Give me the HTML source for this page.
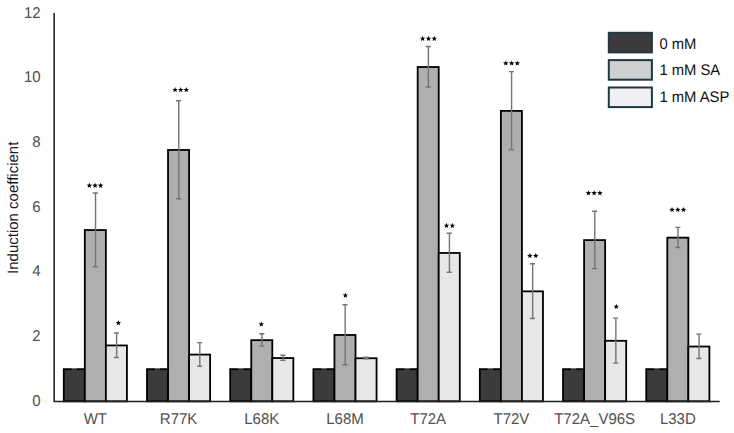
<!DOCTYPE html>
<html><head><meta charset="utf-8"><style>
html,body{margin:0;padding:0;background:#fff;}
body{width:734px;height:433px;overflow:hidden;}
svg{display:block;font-family:"Liberation Sans", sans-serif;text-rendering:geometricPrecision;}
</style></head><body>
<svg width="734" height="433" viewBox="0 0 734 433">
<rect width="734" height="433" fill="#fff"/>
<rect x="63.78" y="369.15" width="21.05" height="32.15" fill="#3b3b3b"/><rect x="63.78" y="369.15" width="21.05" height="32.15" fill="none" stroke="#000" stroke-width="1.8"/><rect x="84.83" y="230.04" width="21.05" height="171.26" fill="#afafaf"/><rect x="84.83" y="230.04" width="21.05" height="171.26" fill="none" stroke="#000" stroke-width="1.8"/><rect x="105.88" y="345.44" width="21.05" height="55.86" fill="#e7e7e7"/><rect x="105.88" y="345.44" width="21.05" height="55.86" fill="none" stroke="#000" stroke-width="1.8"/><rect x="146.99" y="369.15" width="21.05" height="32.15" fill="#3b3b3b"/><rect x="146.99" y="369.15" width="21.05" height="32.15" fill="none" stroke="#000" stroke-width="1.8"/><rect x="168.04" y="149.95" width="21.05" height="251.35" fill="#afafaf"/><rect x="168.04" y="149.95" width="21.05" height="251.35" fill="none" stroke="#000" stroke-width="1.8"/><rect x="189.09" y="354.59" width="21.05" height="46.71" fill="#e7e7e7"/><rect x="189.09" y="354.59" width="21.05" height="46.71" fill="none" stroke="#000" stroke-width="1.8"/><rect x="230.20" y="369.15" width="21.05" height="32.15" fill="#3b3b3b"/><rect x="230.20" y="369.15" width="21.05" height="32.15" fill="none" stroke="#000" stroke-width="1.8"/><rect x="251.25" y="340.16" width="21.05" height="61.14" fill="#afafaf"/><rect x="251.25" y="340.16" width="21.05" height="61.14" fill="none" stroke="#000" stroke-width="1.8"/><rect x="272.30" y="358.05" width="21.05" height="43.25" fill="#e7e7e7"/><rect x="272.30" y="358.05" width="21.05" height="43.25" fill="none" stroke="#000" stroke-width="1.8"/><rect x="313.41" y="369.15" width="21.05" height="32.15" fill="#3b3b3b"/><rect x="313.41" y="369.15" width="21.05" height="32.15" fill="none" stroke="#000" stroke-width="1.8"/><rect x="334.46" y="334.96" width="21.05" height="66.34" fill="#afafaf"/><rect x="334.46" y="334.96" width="21.05" height="66.34" fill="none" stroke="#000" stroke-width="1.8"/><rect x="355.51" y="358.25" width="21.05" height="43.05" fill="#e7e7e7"/><rect x="355.51" y="358.25" width="21.05" height="43.05" fill="none" stroke="#000" stroke-width="1.8"/><rect x="396.62" y="369.15" width="21.05" height="32.15" fill="#3b3b3b"/><rect x="396.62" y="369.15" width="21.05" height="32.15" fill="none" stroke="#000" stroke-width="1.8"/><rect x="417.67" y="67.00" width="21.05" height="334.30" fill="#afafaf"/><rect x="417.67" y="67.00" width="21.05" height="334.30" fill="none" stroke="#000" stroke-width="1.8"/><rect x="438.72" y="252.95" width="21.05" height="148.35" fill="#e7e7e7"/><rect x="438.72" y="252.95" width="21.05" height="148.35" fill="none" stroke="#000" stroke-width="1.8"/><rect x="479.83" y="369.15" width="21.05" height="32.15" fill="#3b3b3b"/><rect x="479.83" y="369.15" width="21.05" height="32.15" fill="none" stroke="#000" stroke-width="1.8"/><rect x="500.88" y="110.90" width="21.05" height="290.40" fill="#afafaf"/><rect x="500.88" y="110.90" width="21.05" height="290.40" fill="none" stroke="#000" stroke-width="1.8"/><rect x="521.93" y="291.35" width="21.05" height="109.95" fill="#e7e7e7"/><rect x="521.93" y="291.35" width="21.05" height="109.95" fill="none" stroke="#000" stroke-width="1.8"/><rect x="563.04" y="369.15" width="21.05" height="32.15" fill="#3b3b3b"/><rect x="563.04" y="369.15" width="21.05" height="32.15" fill="none" stroke="#000" stroke-width="1.8"/><rect x="584.09" y="240.11" width="21.05" height="161.19" fill="#afafaf"/><rect x="584.09" y="240.11" width="21.05" height="161.19" fill="none" stroke="#000" stroke-width="1.8"/><rect x="605.14" y="340.81" width="21.05" height="60.49" fill="#e7e7e7"/><rect x="605.14" y="340.81" width="21.05" height="60.49" fill="none" stroke="#000" stroke-width="1.8"/><rect x="646.25" y="369.15" width="21.05" height="32.15" fill="#3b3b3b"/><rect x="646.25" y="369.15" width="21.05" height="32.15" fill="none" stroke="#000" stroke-width="1.8"/><rect x="667.30" y="237.65" width="21.05" height="163.65" fill="#afafaf"/><rect x="667.30" y="237.65" width="21.05" height="163.65" fill="none" stroke="#000" stroke-width="1.8"/><rect x="688.35" y="346.54" width="21.05" height="54.76" fill="#e7e7e7"/><rect x="688.35" y="346.54" width="21.05" height="54.76" fill="none" stroke="#000" stroke-width="1.8"/>
<g stroke="#747474" stroke-width="1.4" fill="none"><path d="M71.75 368.75H76.85"/><path d="M95.55 192.97V266.72M92.80 192.97H97.90M92.80 266.72H97.90"/><path d="M116.61 332.94V357.53M113.86 332.94H118.95M113.86 357.53H118.95"/><path d="M154.97 368.75H160.07"/><path d="M178.77 100.80V198.69M176.02 100.80H181.12M176.02 198.69H181.12"/><path d="M199.81 342.58V366.20M197.06 342.58H202.17M197.06 366.20H202.17"/><path d="M238.17 368.75H243.28"/><path d="M261.97 333.82V346.11M259.22 333.82H264.32M259.22 346.11H264.32"/><path d="M283.02 355.30V360.41M280.27 355.30H285.38M280.27 360.41H285.38"/><path d="M321.38 368.75H326.48"/><path d="M345.18 304.70V364.81M342.43 304.70H347.53M342.43 364.81H347.53"/><path d="M366.23 357.30V358.79M363.48 357.30H368.58M363.48 358.79H368.58"/><path d="M404.59 368.75H409.69"/><path d="M428.39 46.55V87.05M425.64 46.55H430.75M425.64 87.05H430.75"/><path d="M449.44 233.31V272.19M446.69 233.31H451.80M446.69 272.19H451.80"/><path d="M487.80 368.75H492.90"/><path d="M511.60 71.59V149.81M508.85 71.59H513.95M508.85 149.81H513.95"/><path d="M532.65 263.81V318.48M529.90 263.81H535.00M529.90 318.48H535.00"/><path d="M571.01 368.75H576.11"/><path d="M594.81 211.21V268.60M592.06 211.21H597.16M592.06 268.60H597.16"/><path d="M615.87 318.10V363.13M613.12 318.10H618.21M613.12 363.13H618.21"/><path d="M654.22 368.75H659.32"/><path d="M678.02 227.39V247.51M675.27 227.39H680.37M675.27 247.51H680.37"/><path d="M699.07 334.17V358.50M696.32 334.17H701.42M696.32 358.50H701.42"/></g>
<path d="M54.15 13.10V401.45M53.4 401.45H719.7" stroke="#1f1f1f" stroke-width="1.55" fill="none"/>
<g font-size="15" fill="#505050"><text transform="translate(40.60 405.70) scale(1 1.04)" text-anchor="end">0</text><text transform="translate(40.60 341.00) scale(1 1.04)" text-anchor="end">2</text><text transform="translate(40.60 276.30) scale(1 1.04)" text-anchor="end">4</text><text transform="translate(40.60 211.60) scale(1 1.04)" text-anchor="end">6</text><text transform="translate(40.60 146.90) scale(1 1.04)" text-anchor="end">8</text><text transform="translate(40.60 82.20) scale(1 1.04)" text-anchor="end">10</text><text transform="translate(40.60 17.50) scale(1 1.04)" text-anchor="end">12</text><text transform="translate(95.35 423.60) scale(1 1.04)" text-anchor="middle">WT</text><text transform="translate(178.56 423.60) scale(1 1.04)" text-anchor="middle">R77K</text><text transform="translate(261.77 423.60) scale(1 1.04)" text-anchor="middle">L68K</text><text transform="translate(344.98 423.60) scale(1 1.04)" text-anchor="middle">L68M</text><text transform="translate(428.19 423.60) scale(1 1.04)" text-anchor="middle">T72A</text><text transform="translate(511.40 423.60) scale(1 1.04)" text-anchor="middle">T72V</text><text transform="translate(594.62 423.60) scale(1 1.04)" text-anchor="middle">T72A_V96S</text><text transform="translate(677.82 423.60) scale(1 1.04)" text-anchor="middle">L33D</text></g>
<text transform="translate(17.8 207.8) rotate(-90)" text-anchor="middle" font-size="15" fill="#1a1a1a">Induction coefficient</text>
<g fill="#000"><polygon points="89.40,182.68 90.12,184.59 92.16,184.68 90.56,185.95 91.10,187.92 89.40,186.80 87.70,187.92 88.24,185.95 86.64,184.68 88.68,184.59"/><polygon points="95.10,182.68 95.82,184.59 97.86,184.68 96.26,185.95 96.80,187.92 95.10,186.80 93.40,187.92 93.94,185.95 92.34,184.68 94.38,184.59"/><polygon points="100.60,182.68 101.32,184.59 103.36,184.68 101.76,185.95 102.30,187.92 100.60,186.80 98.90,187.92 99.44,185.95 97.84,184.68 99.88,184.59"/><polygon points="118.40,320.08 119.12,321.99 121.16,322.08 119.56,323.35 120.10,325.32 118.40,324.20 116.70,325.32 117.24,323.35 115.64,322.08 117.68,321.99"/><polygon points="175.10,86.98 175.82,88.89 177.86,88.98 176.26,90.25 176.80,92.22 175.10,91.10 173.40,92.22 173.94,90.25 172.34,88.98 174.38,88.89"/><polygon points="180.70,86.98 181.42,88.89 183.46,88.98 181.86,90.25 182.40,92.22 180.70,91.10 179.00,92.22 179.54,90.25 177.94,88.98 179.98,88.89"/><polygon points="186.30,86.98 187.02,88.89 189.06,88.98 187.46,90.25 188.00,92.22 186.30,91.10 184.60,92.22 185.14,90.25 183.54,88.98 185.58,88.89"/><polygon points="261.30,321.28 262.02,323.19 264.06,323.28 262.46,324.55 263.00,326.52 261.30,325.40 259.60,326.52 260.14,324.55 258.54,323.28 260.58,323.19"/><polygon points="345.35,292.58 346.07,294.49 348.11,294.58 346.51,295.85 347.05,297.82 345.35,296.70 343.65,297.82 344.19,295.85 342.59,294.58 344.63,294.49"/><polygon points="422.65,35.78 423.37,37.69 425.41,37.78 423.81,39.05 424.35,41.02 422.65,39.90 420.95,41.02 421.49,39.05 419.89,37.78 421.93,37.69"/><polygon points="428.50,35.78 429.22,37.69 431.26,37.78 429.66,39.05 430.20,41.02 428.50,39.90 426.80,41.02 427.34,39.05 425.74,37.78 427.78,37.69"/><polygon points="434.30,35.78 435.02,37.69 437.06,37.78 435.46,39.05 436.00,41.02 434.30,39.90 432.60,41.02 433.14,39.05 431.54,37.78 433.58,37.69"/><polygon points="446.50,222.78 447.22,224.69 449.26,224.78 447.66,226.05 448.20,228.02 446.50,226.90 444.80,228.02 445.34,226.05 443.74,224.78 445.78,224.69"/><polygon points="452.35,222.78 453.07,224.69 455.11,224.78 453.51,226.05 454.05,228.02 452.35,226.90 450.65,228.02 451.19,226.05 449.59,224.78 451.63,224.69"/><polygon points="505.80,60.38 506.52,62.29 508.56,62.38 506.96,63.65 507.50,65.62 505.80,64.50 504.10,65.62 504.64,63.65 503.04,62.38 505.08,62.29"/><polygon points="511.60,60.38 512.32,62.29 514.36,62.38 512.76,63.65 513.30,65.62 511.60,64.50 509.90,65.62 510.44,63.65 508.84,62.38 510.88,62.29"/><polygon points="517.30,60.38 518.02,62.29 520.06,62.38 518.46,63.65 519.00,65.62 517.30,64.50 515.60,65.62 516.14,63.65 514.54,62.38 516.58,62.29"/><polygon points="529.90,252.88 530.62,254.79 532.66,254.88 531.06,256.15 531.60,258.12 529.90,257.00 528.20,258.12 528.74,256.15 527.14,254.88 529.18,254.79"/><polygon points="535.80,252.88 536.52,254.79 538.56,254.88 536.96,256.15 537.50,258.12 535.80,257.00 534.10,258.12 534.64,256.15 533.04,254.88 535.08,254.79"/><polygon points="588.45,190.18 589.17,192.09 591.21,192.18 589.61,193.45 590.15,195.42 588.45,194.30 586.75,195.42 587.29,193.45 585.69,192.18 587.73,192.09"/><polygon points="594.15,190.18 594.87,192.09 596.91,192.18 595.31,193.45 595.85,195.42 594.15,194.30 592.45,195.42 592.99,193.45 591.39,192.18 593.43,192.09"/><polygon points="599.90,190.18 600.62,192.09 602.66,192.18 601.06,193.45 601.60,195.42 599.90,194.30 598.20,195.42 598.74,193.45 597.14,192.18 599.18,192.09"/><polygon points="616.30,303.78 617.02,305.69 619.06,305.78 617.46,307.05 618.00,309.02 616.30,307.90 614.60,309.02 615.14,307.05 613.54,305.78 615.58,305.69"/><polygon points="672.00,206.88 672.72,208.79 674.76,208.88 673.16,210.15 673.70,212.12 672.00,211.00 670.30,212.12 670.84,210.15 669.24,208.88 671.28,208.79"/><polygon points="677.80,206.88 678.52,208.79 680.56,208.88 678.96,210.15 679.50,212.12 677.80,211.00 676.10,212.12 676.64,210.15 675.04,208.88 677.08,208.79"/><polygon points="683.50,206.88 684.22,208.79 686.26,208.88 684.66,210.15 685.20,212.12 683.50,211.00 681.80,212.12 682.34,210.15 680.74,208.88 682.78,208.79"/></g>
<rect x="608.8" y="32.8" width="43.1" height="19.6" fill="#3c3a3a" stroke="#203746" stroke-width="2"/><rect x="608.8" y="60.1" width="43.1" height="19.6" fill="#d0d0d0" stroke="#203746" stroke-width="2"/><rect x="608.8" y="87.5" width="43.1" height="19.6" fill="#f0f0f0" stroke="#203746" stroke-width="2"/>
<g font-size="14.8" fill="#111"><text transform="translate(659.40 48.70) scale(1 1.04)">0 mM</text><text transform="translate(659.40 75.20) scale(1 1.04)">1 mM SA</text><text transform="translate(659.40 102.10) scale(1 1.04)">1 mM ASP</text></g>
</svg>
</body></html>
